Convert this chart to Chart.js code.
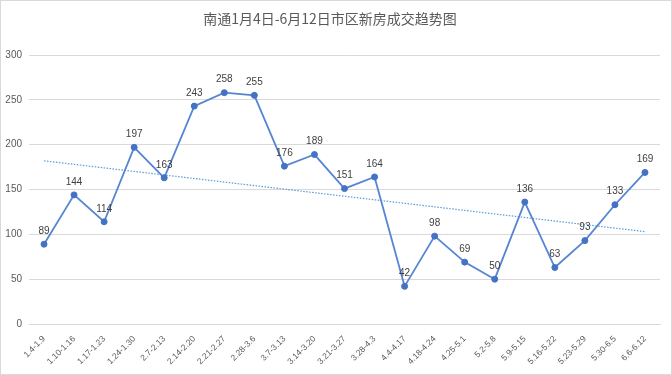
<!DOCTYPE html>
<html>
<head>
<meta charset="utf-8">
<script src="https://cdn.jsdelivr.net/npm/chart.js@4.4.1/dist/chart.umd.min.js"></script>
<style>
html,body{margin:0;padding:0;background:#fff;}
#wrap{width:672px;height:375px;position:relative;}
</style>
</head>
<body>
<div id="wrap"><canvas id="c" width="672" height="375"></canvas></div>
<script>
const chartTitle = '南通1月4日-6月12日市区新房成交趋势图';
const categories = ['1.4-1.9','1.10-1.16','1.17-1.23','1.24-1.30','2.7-2.13','2.14-2.20','2.21-2.27','2.28-3.6','3.7-3.13','3.14-3.20','3.21-3.27','3.28-4.3','4.4-4.17','4.18-4.24','4.25-5.1','5.2-5.8','5.9-5.15','5.16-5.22','5.23-5.29','5.30-6.5','6.6-6.12'];
const sales = [89,144,114,197,163,243,258,255,176,189,151,164,42,98,69,50,136,63,93,133,169];
const trendEnds = [182,103];
const yTicks = [0,50,100,150,200,250,300];

const FONT = "'Liberation Sans','Noto Sans CJK SC',sans-serif";

const bgBorder = {
  id:'bgBorder',
  beforeDraw(chart){
    const ctx = chart.ctx;
    ctx.save();
    ctx.fillStyle = '#fff';
    ctx.fillRect(0,0,chart.width,chart.height);
    ctx.strokeStyle = '#d9d9d9';
    ctx.lineWidth = 1;
    ctx.strokeRect(0.5,0.5,chart.width-1,chart.height-1);
    ctx.restore();
  }
};

const valueLabels = {
  id:'valueLabels',
  afterDatasetsDraw(chart){
    const ctx = chart.ctx;
    const meta = chart.getDatasetMeta(0);
    ctx.save();
    ctx.font = '10px ' + FONT;
    ctx.fillStyle = '#404040';
    ctx.textAlign = 'center';
    ctx.textBaseline = 'middle';
    meta.data.forEach((pt,i)=>{
      ctx.fillText(String(sales[i]), pt.x, pt.y - 13);
    });
    ctx.restore();
  }
};

new Chart(document.getElementById('c'), {
  type:'line',
  data:{
    labels:categories,
    datasets:[
      {
        data:sales,
        borderColor:'#5585d3',
        backgroundColor:'#4472C4',
        pointBackgroundColor:'#4472C4',
        pointBorderColor:'#4472C4',
        borderWidth:1.8,
        pointRadius:3,
        pointBorderWidth:1,
        tension:0,
        order:1
      },
      {
        data:[{x:categories[0],y:trendEnds[0]},{x:categories[categories.length-1],y:trendEnds[1]}],
        borderColor:'#5B9BD5',
        borderWidth:1.2,
        borderDash:[1.5,1.5],
        pointRadius:0,
        fill:false,
        order:2
      }
    ]
  },
  options:{
    responsive:false,
    animation:false,
    devicePixelRatio:1,
    layout:{padding:{top:8,left:0,right:12,bottom:0}},
    plugins:{
      legend:{display:false},
      tooltip:{enabled:false},
      title:{
        display:true,
        text:chartTitle,
        color:'#595959',
        font:{family:"'Noto Sans CJK SC',sans-serif",size:14,weight:'normal'},
        padding:{top:2,bottom:28.2}
      }
    },
    scales:{
      x:{
        offset:true,
        grid:{display:false},
        border:{display:true,color:'#d9d9d9',width:1},
        ticks:{
          color:'#595959',
          font:{family:FONT,size:8.5},
          minRotation:45,maxRotation:45,
          autoSkip:false,
          padding:2
        },
        afterFit(scale){ scale.height = 51; }
      },
      y:{
        min:0,max:300,
        afterBuildTicks(scale){ scale.ticks = yTicks.map(v=>({value:v})); },
        grid:{color:'#d9d9d9',drawTicks:false},
        border:{display:false},
        ticks:{
          color:'#595959',
          font:{family:FONT,size:10},
          padding:7
        },
        afterFit(scale){ scale.width = 29; }
      }
    }
  },
  plugins:[bgBorder,valueLabels]
});
</script>
</body>
</html>
